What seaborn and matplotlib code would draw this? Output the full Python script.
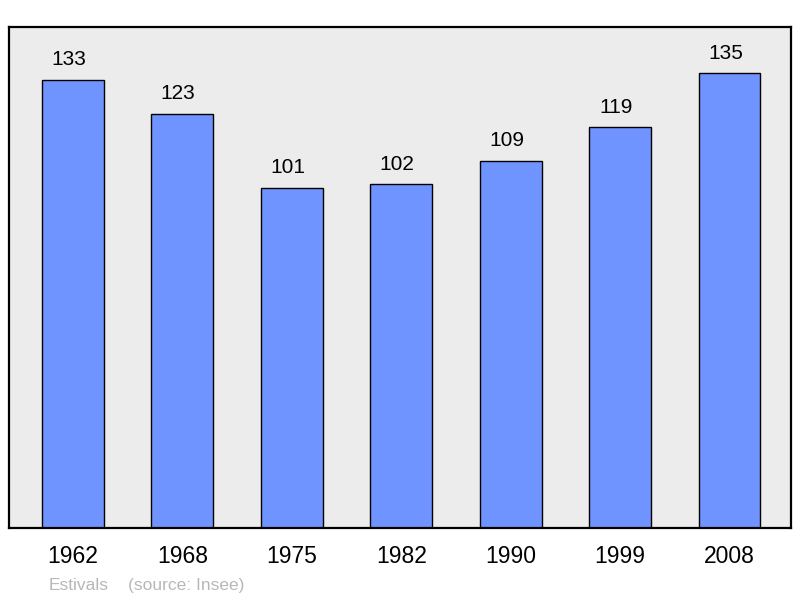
import matplotlib
matplotlib.use("Agg")
import matplotlib.pyplot as plt
import seaborn as sns

years = ["1962", "1968", "1975", "1982", "1990", "1999", "2008"]
population = [133, 123, 101, 102, 109, 119, 135]

sns.set_style("white")
plt.rcParams['font.family'] = ['Liberation Sans', 'DejaVu Sans']

fig = plt.figure(figsize=(8, 5.98), dpi=100)
ax = fig.add_axes([0.01125, 0.1171, 0.9775, 0.8378])
ax.set_facecolor("#ececec")

sns.barplot(x=years, y=population, color="#7094ff", saturation=1,
            edgecolor="black", linewidth=1, width=0.566, ax=ax)

for i, v in enumerate(population):
    ax.annotate(str(v), (i, v), xytext=(-3, 7.5), textcoords="offset points",
                ha="center", va="bottom", fontsize=15, color="black")

ax.set_xlim(-0.584, 6.562)
ax.set_ylim(0, 148.7)
ax.set_yticks([])
ax.tick_params(axis="x", length=0, pad=12.5, labelsize=16.5, labelcolor="black")
ax.set_xlabel("")
ax.set_ylabel("")
for s in ax.spines.values():
    s.set_linewidth(1.6)
    s.set_color("black")

fig.text(49 / 800, 1 - 590 / 598, "Estivals", color="#b8b8b8",
         fontsize=12.5, ha="left", va="baseline")
fig.text(128 / 800, 1 - 590 / 598, "(source: Insee)", color="#b8b8b8",
         fontsize=12.5, ha="left", va="baseline")

fig.savefig("out.png", dpi=100)
